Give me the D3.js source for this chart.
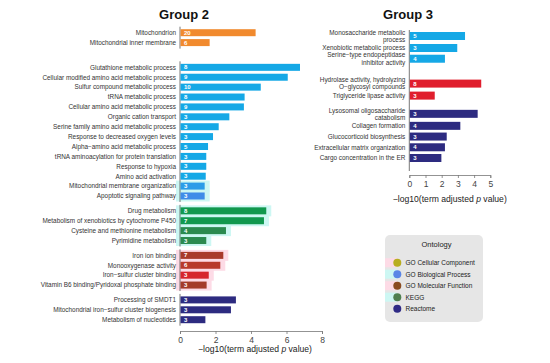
<!DOCTYPE html>
<html>
<head>
<meta charset="utf-8">
<script src="https://cdn.jsdelivr.net/npm/d3@7"></script>
<style>
  body { margin: 0; background: #fff; }
  svg { font-family: "Liberation Sans", Arial, sans-serif; }
</style>
</head>
<body>
<svg id="chart" width="550" height="363"></svg>
<script>
// ---- data ----
var group2Terms = [
    "Mitochondrion", "Mitochondrial inner membrane",
    "Glutathione metabolic process", "Cellular modified amino acid metabolic process",
    "Sulfur compound metabolic process", "tRNA metabolic process",
    "Cellular amino acid metabolic process", "Organic cation transport",
    "Serine family amino acid metabolic process", "Response to decreased oxygen levels",
    "Alpha\u2212amino acid metabolic process", "tRNA aminoacylation for protein translation",
    "Response to hypoxia", "Amino acid activation",
    "Mitochondrial membrane organization", "Apoptotic signaling pathway",
    "Drug metabolism", "Metabolism of xenobiotics by cytochrome P450",
    "Cysteine and methionine metabolism", "Pyrimidine metabolism",
    "Iron ion binding", "Monooxygenase activity",
    "Iron\u2212sulfur cluster binding", "Vitamin B6 binding/Pyridoxal phosphate binding",
    "Processing of SMDT1", "Mitochondrial iron\u2212sulfur cluster biogenesis",
    "Metabolism of nucleotides"
];
var group2Values = [4.26, 1.67, 6.76, 6.07, 4.55, 3.64, 3.6, 2.78, 2.18, 1.86, 1.58, 1.48, 1.48, 1.45,
    1.39, 1.39, 4.86, 4.73, 2.59, 1.48, 2.44, 2.27, 1.62, 1.5, 3.15, 2.87, 1.43];
var group2Counts = [20, 6, 8, 9, 10, 8, 9, 3, 3, 3, 5, 3, 3, 3, 3, 3, 8, 7, 4, 3, 7, 6, 3, 3, 3, 3, 3];
var group2Ontology = ["CC", "CC",
    "BP", "BP", "BP", "BP", "BP", "BP", "BP", "BP", "BP", "BP", "BP", "BP", "BP", "BP",
    "KEGG", "KEGG", "KEGG", "KEGG", "MF", "MF", "MF", "MF", "Reactome", "Reactome", "Reactome"];

var group3Terms = [
    "Monosaccharide metabolic|process", "Xenobiotic metabolic process",
    "Serine\u2212type endopeptidase|inhibitor activity",
    "Hydrolase activity, hydrolyzing|O\u2212glycosyl compounds", "Triglyceride lipase activity",
    "Lysosomal oligosaccharide|catabolism", "Collagen formation", "Glucocorticoid biosynthesis",
    "Extracellular matrix organization", "Cargo concentration in the ER"
];
var group3Values = [3.44, 2.96, 2.2, 4.44, 1.57, 4.22, 3.15, 2.31, 2.2, 1.98];
var group3Counts = [5, 3, 4, 8, 3, 3, 4, 3, 4, 3];
var group3Ontology = ["BP", "BP", "BP", "MF", "MF", "Reactome", "Reactome", "Reactome", "Reactome", "Reactome"];

var group2Ticks = [0, 2, 4, 6, 8];
var group3Ticks = [0, 1, 2, 3, 4, 5];

var legendKeys = ["CC", "BP", "MF", "KEGG", "Reactome"];
var legendLabels = ["GO Cellular Component", "GO Biological Process", "GO Molecular Function", "KEGG", "Reactome"];

// ---- styles ----
var barColor = {CC: "#f18a2e", BP: "#15a8e6", MF: "#b0392b", KEGG: "#11984e", Reactome: "#2d2b80"};
var termShade = {
    "Mitochondrial membrane organization": "#2c9ce8",
    "Apoptotic signaling pathway": "#3f8ce8",
    "Cysteine and methionine metabolism": "#2b8a4f",
    "Pyrimidine metabolism": "#2b8a4f",
    "Iron ion binding": "#a93a2b",
    "Monooxygenase activity": "#b8392c",
    "Iron\u2212sulfur cluster binding": "#d6262d",
    "Vitamin B6 binding/Pyridoxal phosphate binding": "#a43b2a",
    "Hydrolase activity, hydrolyzing|O\u2212glycosyl compounds": "#e01e2d",
    "Triglyceride lipase activity": "#e01e2d"
};
var haloColor = {"BP": "#cdf7f3", "KEGG": "#cdf7f3", "MF": "#fddbe6"};
var haloTerms = ["Mitochondrial membrane organization", "Apoptotic signaling pathway",
    "Drug metabolism", "Metabolism of xenobiotics by cytochrome P450",
    "Cysteine and methionine metabolism", "Pyrimidine metabolism",
    "Iron ion binding", "Monooxygenase activity", "Iron\u2212sulfur cluster binding",
    "Vitamin B6 binding/Pyridoxal phosphate binding"];
var legendColor = {CC: "#b8ad1f", BP: "#5a86e6", MF: "#8a4b20", KEGG: "#4e7f4f", Reactome: "#2f2a85"};
var legendHalo = {CC: "#fddbe6", BP: "#cdf7f3", MF: "#fddbe6", KEGG: "#cdf7f3"};

var svg = d3.select("#chart");
var textColor = "#333";

// slot positions: rows advance by 1, blocks are separated by a gap
function slots(ontology, gaps, extra) {
    var s = [], pos = 0, block = 0;
    ontology.forEach(function (o, i) {
        if (i > 0) {
            pos += 1 + (extra ? extra[i - 1] : 0);
            if (o !== ontology[i - 1]) { pos += gaps[block]; block++; }
        }
        s.push({slot: pos, block: block});
    });
    return s;
}

function drawPanel(cfg) {
    var g = svg.append("g");
    var x = d3.scaleLinear().domain(cfg.domain).range(cfg.xRange);
    var rows = cfg.terms.map(function (t, i) {
        return {term: t, lines: t.split("|"), value: cfg.values[i], count: cfg.counts[i],
            ont: cfg.ontology[i]};
    });
    var extra = cfg.twoLineExtra ? rows.map(function (r) { return r.lines.length > 1 ? cfg.twoLineExtra : 0; }) : null;
    var sl = slots(cfg.ontology, cfg.gaps, extra);
    rows.forEach(function (r, i) { r.slot = sl[i].slot; r.block = sl[i].block; });
    var y = d3.scaleLinear()
        .domain([0, d3.max(rows, function (r) { return r.slot; })])
        .range(cfg.yRange);
    var bh = cfg.barHeight;

    // halos
    g.selectAll(".halo")
        .data(rows.filter(function (r) { return haloTerms.indexOf(r.term) >= 0; }))
        .enter().append("rect")
        .attr("x", x(0) - 4)
        .attr("y", function (r) { return y(r.slot) - 5.5; })
        .attr("width", function (r) { return x(r.value) - x(0) + 9; })
        .attr("height", 11)
        .attr("fill", function (r) { return haloColor[r.ont]; });

    // spines
    var spines = cfg.continuousSpine ? [[0, rows.length - 1]] :
        d3.groups(rows.map(function (r, i) { return [r.block, i]; }), function (d) { return d[0]; })
            .map(function (gr) { return [gr[1][0][1], gr[1][gr[1].length - 1][1]]; });
    spines.forEach(function (s) {
        g.append("line")
            .attr("x1", x(0)).attr("x2", x(0))
            .attr("y1", y(rows[s[0]].slot) - 6)
            .attr("y2", cfg.continuousSpine ? cfg.axisY - 4 : y(rows[s[1]].slot) + 6)
            .attr("stroke", "#555").attr("stroke-width", 0.8);
    });

    // bars
    g.selectAll(".bar").data(rows).enter().append("rect")
        .attr("x", x(0) + 0.5)
        .attr("y", function (r) { return y(r.slot) - bh / 2; })
        .attr("width", function (r) { return x(r.value) - x(0) - 0.5; })
        .attr("height", bh)
        .attr("fill", function (r) { return termShade[r.term] || barColor[r.ont]; });

    // counts
    g.selectAll(".count").data(rows).enter().append("text")
        .attr("x", x(0) + 4)
        .attr("y", function (r) { return y(r.slot) + 2.1; })
        .attr("font-size", 6).attr("font-weight", "bold")
        .attr("fill", "#fff")
        .text(function (r) { return r.count; });

    // term labels (right aligned, wrapped lines stacked around the bar centre)
    var lab = g.selectAll(".lab").data(rows).enter().append("text")
        .attr("font-size", cfg.labelSize)
        .attr("fill", textColor)
        .attr("text-anchor", "end")
        .attr("y", function (r) { return y(r.slot) + 2.3; });
    lab.each(function (r) {
        var t = d3.select(this);
        r.lines.forEach(function (ln, k) {
            var dy = r.lines.length === 1 ? 0 : (k === 0 ? -3.6 : 7.2);
            t.append("tspan").attr("x", x(0) - 4).attr("dy", dy).text(ln);
        });
    });

    // x axis
    var axis = d3.axisBottom(x).tickValues(cfg.ticks).tickSize(3).tickPadding(3)
        .tickFormat(d3.format("d"));
    var ax = g.append("g").attr("transform", "translate(0," + cfg.axisY + ")").call(axis);
    ax.select(".domain").attr("stroke", "#777").attr("stroke-width", 0.8);
    ax.selectAll(".tick line").attr("stroke", "#777").attr("stroke-width", 0.8);
    ax.selectAll(".tick text").attr("font-size", 8.5).attr("fill", "#444")
        .attr("font-family", "Liberation Sans, Arial, sans-serif");

    var xt = g.append("text")
        .attr("x", (cfg.xRange[0] + cfg.xRange[1]) / 2 + cfg.titleShift)
        .attr("y", cfg.titleY)
        .attr("text-anchor", "middle")
        .attr("font-size", 8.6).attr("fill", "#222");
    xt.append("tspan").text("\u2212log10(term adjusted ");
    xt.append("tspan").attr("font-style", "italic").text("p");
    xt.append("tspan").text(" value)");

    g.append("text")
        .attr("x", cfg.headerX).attr("y", 19)
        .attr("text-anchor", "middle")
        .attr("font-size", 13).attr("font-weight", "bold").attr("fill", "#111")
        .text(cfg.header);
}

drawPanel({
    terms: group2Terms, values: group2Values, counts: group2Counts, ontology: group2Ontology,
    domain: [0, 8], xRange: [180, 322], yRange: [32.7, 319.7], gaps: [1.5, 0.5, 0.5, 0.5],
    barHeight: 7, labelSize: 6.4, ticks: group2Ticks, axisY: 331, titleY: 352, titleShift: 4,
    header: "Group 2", headerX: 184, continuousSpine: false
});

drawPanel({
    terms: group3Terms, values: group3Values, counts: group3Counts, ontology: group3Ontology,
    domain: [0, 5], xRange: [409.3, 490.3], yRange: [36, 158], gaps: [1.2, 0.7],
    twoLineExtra: 0.12,
    barHeight: 8, labelSize: 6.4, ticks: group3Ticks, axisY: 175, titleY: 202, titleShift: 0,
    header: "Group 3", headerX: 408, continuousSpine: true
});

// legend
var lg = svg.append("g");
lg.append("rect")
    .attr("x", 385).attr("y", 235).attr("width", 98).attr("height", 87)
    .attr("rx", 5).attr("fill", "#e6e6e6");
lg.append("text").attr("x", 436.5).attr("y", 247)
    .attr("text-anchor", "middle").attr("font-size", 7.5).attr("fill", "#222")
    .text("Ontology");
var ly = d3.scalePoint().domain(legendKeys).range([262.7, 308.7]);
var items = lg.selectAll(".item").data(legendKeys).enter().append("g");
items.filter(function (k) { return legendHalo[k]; }).append("rect")
    .attr("x", 385).attr("y", function (k) { return ly(k) - 4.5; })
    .attr("width", 12).attr("height", 9)
    .attr("fill", function (k) { return legendHalo[k]; });
items.append("circle")
    .attr("cx", 397.3).attr("cy", function (k) { return ly(k); })
    .attr("r", 4)
    .attr("fill", function (k) { return legendColor[k]; });
items.append("text")
    .attr("x", 405.5).attr("y", function (k) { return ly(k) + 2.4; })
    .attr("font-size", 6.5).attr("fill", "#222")
    .text(function (k, i) { return legendLabels[i]; });
</script>
</body>
</html>
